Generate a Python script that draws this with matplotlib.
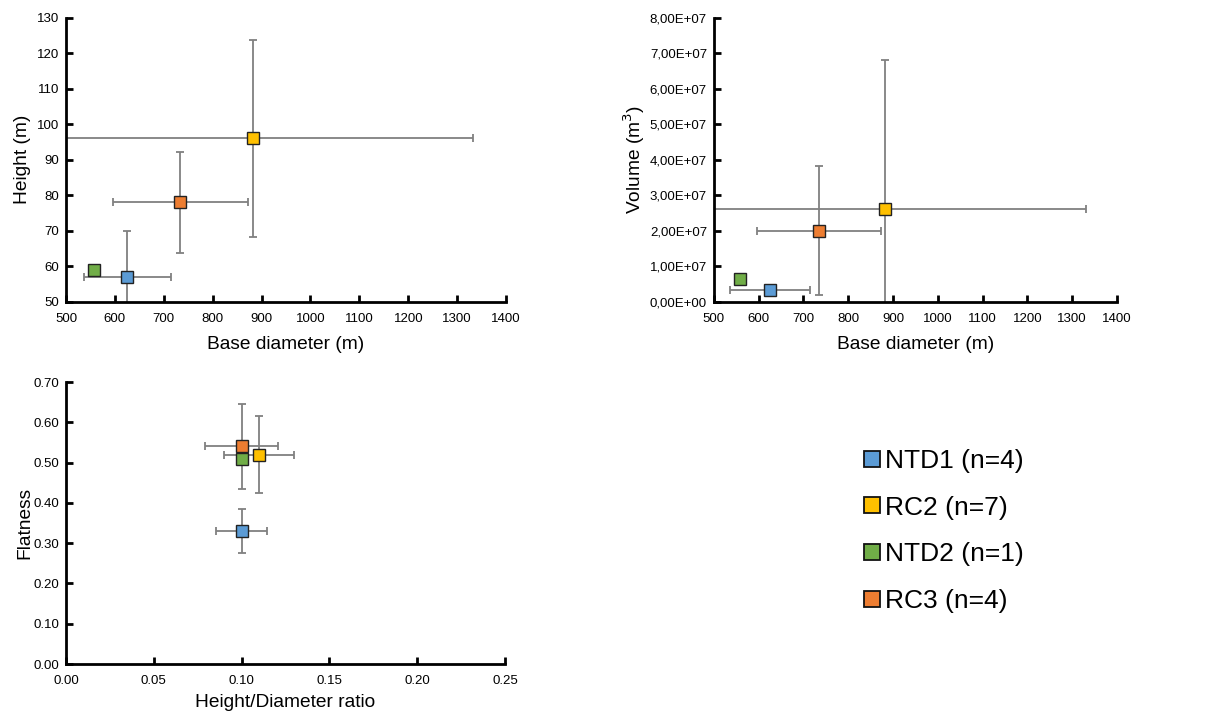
import matplotlib
matplotlib.use("Agg")
import matplotlib.pyplot as plt
from matplotlib.lines import Line2D
from matplotlib.ticker import FuncFormatter, MultipleLocator

plt.rcParams["font.family"] = ["Liberation Sans", "DejaVu Sans"]

GROUPS = ["NTD1 (n=4)", "RC2 (n=7)", "NTD2 (n=1)", "RC3 (n=4)"]
COLORS = ["#5B9BD5", "#FFC000", "#70AD47", "#ED7D31"]

# base diameter (m), mean and sd
diameter = [625, 882, 558, 734]
diameter_err = [89, 450, 0, 138]

# height (m)
height = [57, 96, 59, 78]
height_err = [12.8, 27.7, 0, 14.2]

# volume (m3)
volume = [3.2e6, 2.62e7, 6.5e6, 2.0e7]
volume_err = [0, 4.2e7, 0, 1.82e7]

# height/diameter ratio and flatness
hd_ratio = [0.10, 0.11, 0.10, 0.10]
hd_ratio_err = [0.0143, 0.02, 0, 0.021]
flatness = [0.33, 0.52, 0.51, 0.54]
flatness_err = [0.054, 0.095, 0, 0.105]

# draw order in the panels (RC3 on top of NTD2 in the bottom panel)
DRAW_ORDER = [2, 0, 1, 3]


def style_axes(ax):
    for side in ["top", "right"]:
        ax.spines[side].set_visible(False)
    for side in ["left", "bottom"]:
        ax.spines[side].set_linewidth(2)
        ax.spines[side].set_color("black")
    ax.tick_params(direction="in", length=5, width=2, labelsize=9.5)
    ax.tick_params(axis="x", pad=8)
    ax.tick_params(axis="y", pad=5)


def draw_points(ax, xs, xerr, ys, yerr):
    for i in DRAW_ORDER:
        ax.errorbar(
            xs[i], ys[i],
            xerr=xerr[i] if xerr[i] else None,
            yerr=yerr[i] if yerr[i] else None,
            fmt="none", ecolor="#808080", elinewidth=1.3, capsize=3, capthick=1.3,
            zorder=2,
        )
    for i in DRAW_ORDER:
        ax.plot(xs[i], ys[i], marker="s", markersize=9, linestyle="none",
                markerfacecolor=COLORS[i], markeredgecolor="#222222",
                markeredgewidth=1, zorder=3)


fig = plt.figure(figsize=(12.2, 7.15), dpi=100)

ax1 = fig.add_axes([0.0541, 0.578, 0.3607, 0.3972])
draw_points(ax1, diameter, diameter_err, height, height_err)
ax1.set_xlim(500, 1400)
ax1.set_ylim(50, 130)
ax1.xaxis.set_major_locator(MultipleLocator(100))
ax1.yaxis.set_major_locator(MultipleLocator(10))
ax1.set_xlabel("Base diameter (m)", fontsize=13.8, labelpad=8)
ax1.set_ylabel("Height (m)", fontsize=13.8, labelpad=4)
style_axes(ax1)

ax2 = fig.add_axes([0.5852, 0.578, 0.3303, 0.3972])
draw_points(ax2, diameter, diameter_err, volume, volume_err)
ax2.set_xlim(500, 1400)
ax2.set_ylim(0, 8e7)
ax2.xaxis.set_major_locator(MultipleLocator(100))
ax2.yaxis.set_major_locator(MultipleLocator(1e7))
ax2.yaxis.set_major_formatter(
    FuncFormatter(lambda v, p: f"{v:.2E}".replace(".", ","))
)
ax2.set_xlabel("Base diameter (m)", fontsize=13.8, labelpad=8)
ax2.set_ylabel("Volume (m$^3$)", fontsize=13.8, labelpad=2)
style_axes(ax2)

ax3 = fig.add_axes([0.0541, 0.0713, 0.3598, 0.3944])
draw_points(ax3, hd_ratio, hd_ratio_err, flatness, flatness_err)
ax3.set_xlim(0, 0.25)
ax3.set_ylim(0, 0.70)
ax3.xaxis.set_major_locator(MultipleLocator(0.05))
ax3.yaxis.set_major_locator(MultipleLocator(0.10))
ax3.xaxis.set_major_formatter(FuncFormatter(lambda v, p: f"{v:.2f}"))
ax3.yaxis.set_major_formatter(FuncFormatter(lambda v, p: f"{v:.2f}"))
ax3.set_xlabel("Height/Diameter ratio", fontsize=13.8, labelpad=5)
ax3.set_ylabel("Flatness", fontsize=13.8, labelpad=0)
style_axes(ax3)

handles = [
    Line2D([], [], marker="s", linestyle="none", markersize=11,
           markerfacecolor=c, markeredgecolor="#111111", markeredgewidth=1.3)
    for c in COLORS
]
fig.legend(
    handles, GROUPS, loc="upper left", bbox_to_anchor=(864 / 1220, 1 - 449 / 715),
    frameon=False, fontsize=19, handlelength=0.6, handletextpad=0.2,
    labelspacing=0.86, borderpad=0, borderaxespad=0,
)

fig.savefig("out.png", dpi=100)
